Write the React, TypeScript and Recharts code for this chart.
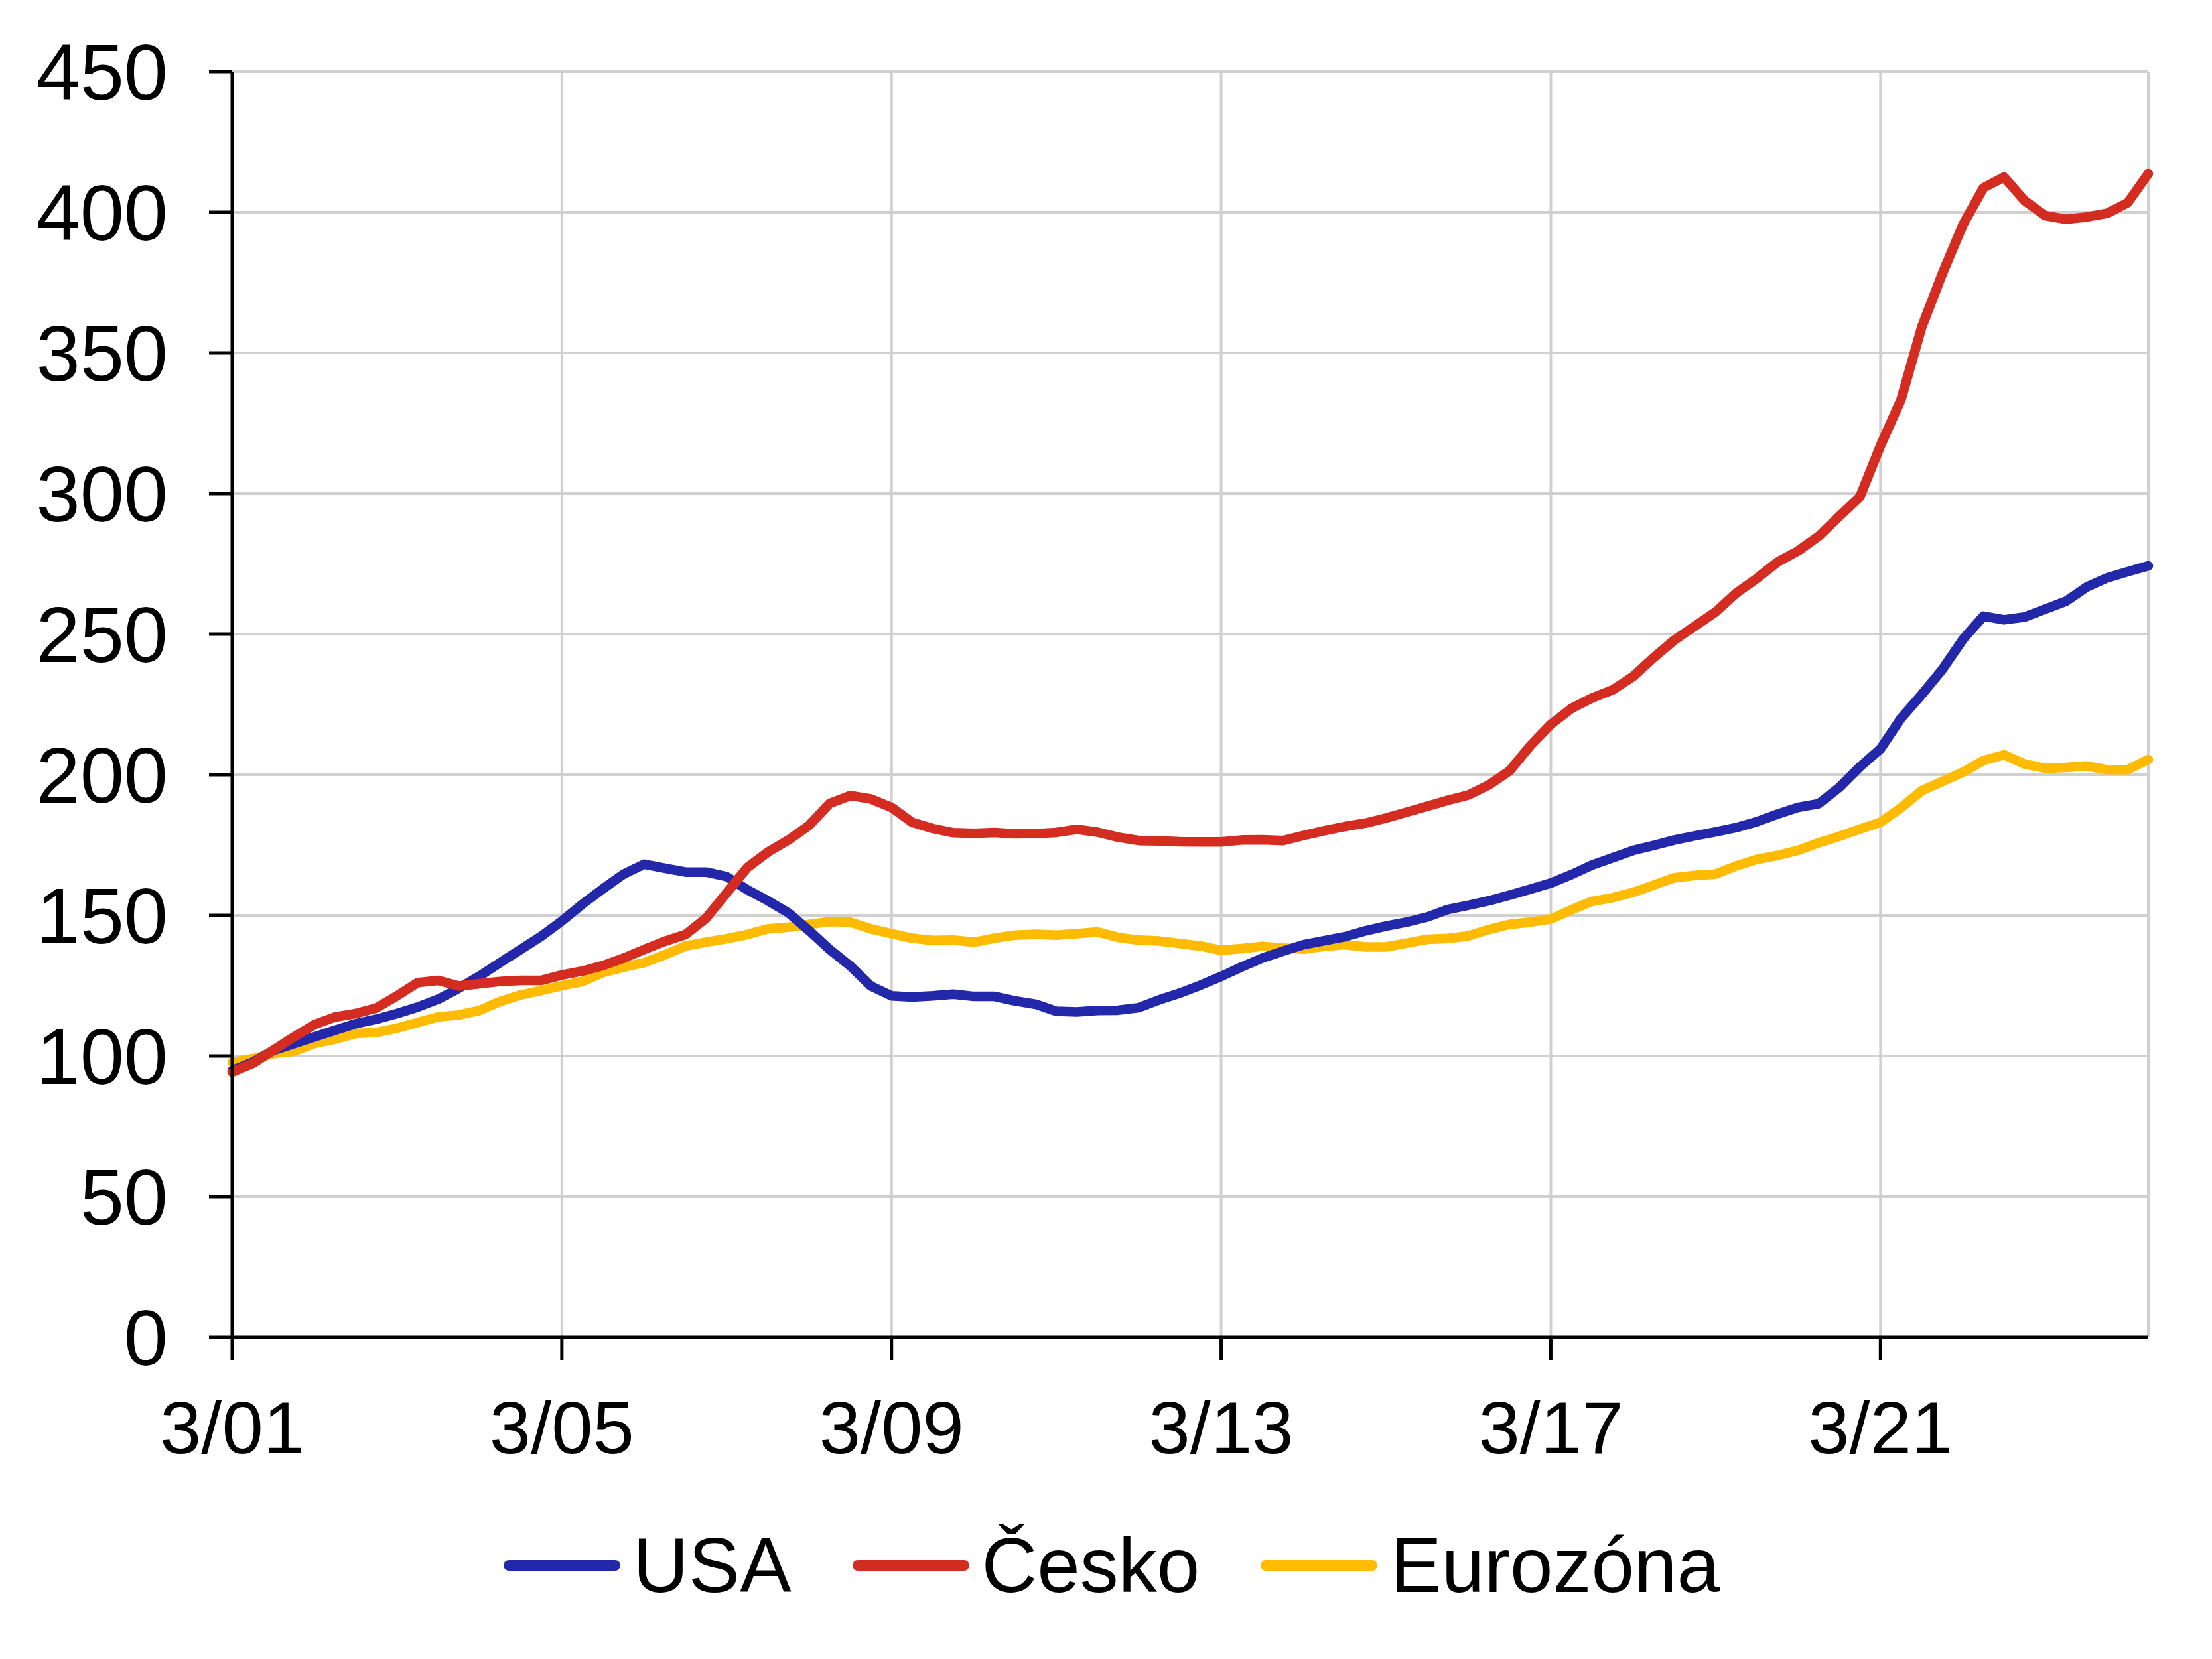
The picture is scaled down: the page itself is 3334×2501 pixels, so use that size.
import React from 'react';
import { LineChart, Line, XAxis, YAxis, CartesianGrid, Legend } from 'recharts';

const FONT = '"Liberation Sans", Arial, sans-serif';

// quarterly labels 3/01 .. 6/24
const QUARTERS: string[] = [];
for (let y = 1; y <= 24; y++) {
    for (const m of [3, 6, 9, 12]) QUARTERS.push(`${m}/${String(y).padStart(2, '0')}`);
}
QUARTERS.length = 94;

const X_TICKS = ['3/01', '3/05', '3/09', '3/13', '3/17', '3/21'];
const Y_TICKS = [0, 50, 100, 150, 200, 250, 300, 350, 400, 450];

const USA = [
    94.8, 97.8, 102, 104.4, 106.8, 109.2, 111.5, 113.1, 115.1, 117.4, 120.2, 124.1, 128.4, 133.2, 137.9, 142.6,
    148, 154, 159.5, 164.7, 168.2, 166.8, 165.4, 165.4, 163.8, 159.1, 155.2, 150.9, 144.6, 137.9, 132, 124.9,
    121.4, 121, 121.4, 122, 121.2, 121.2, 119.6, 118.4, 115.9, 115.7, 116.2, 116.3, 117.2, 120, 122.4, 125.2,
    128.3, 131.7, 134.8, 137.3, 139.6, 141, 142.4, 144.5, 146.2, 147.6, 149.4, 152.1, 153.6, 155.2, 157.2, 159.3,
    161.5, 164.5, 167.9, 170.5, 173.1, 174.9, 176.8, 178.3, 179.7, 181.2, 183.3, 186, 188.4, 189.7, 195.5, 202.8,
    209.2, 220.1, 228.5, 237.4, 248.1, 256.4, 255.1, 256.1, 258.9, 261.7, 266.7, 270, 272.2, 274.3,
];

const CESKO = [
    94.3, 97.4, 102.1, 106.8, 111.2, 113.9, 115.1, 117.1, 121.4, 126.1, 126.9, 124.9, 125.7, 126.5, 126.9, 126.9,
    128.8, 130.2, 132.2, 134.8, 137.9, 140.8, 143.2, 149, 158, 167, 172.5, 176.8, 182, 189.8, 192.6, 191.4,
    188.4, 183.1, 180.9, 179.4, 179.2, 179.5, 179, 179.1, 179.5, 180.6, 179.6, 177.8, 176.6, 176.5, 176.2, 176.1,
    176.1, 176.8, 176.9, 176.6, 178.4, 180.1, 181.6, 182.8, 184.6, 186.7, 188.8, 190.9, 192.8, 196.4, 201.4, 210.3,
    217.9, 223.6, 227.3, 230.2, 235, 241.7, 247.9, 252.9, 257.9, 264.6, 269.8, 275.6, 279.6, 284.8, 291.9, 298.8,
    317, 333.4, 359.1, 378.1, 395.5, 408.7, 412.5, 404.1, 398.8, 397.5, 398.3, 399.6, 403.4, 413.7,
];

const EUROZONA = [
    97.8, 99, 100.9, 101.7, 104.5, 106, 108, 108.4, 109.9, 111.9, 113.9, 114.6, 116.2, 119.4, 121.7, 123.3,
    125, 126.5, 129.7, 131.6, 133.2, 136, 139.1, 140.5, 141.7, 143.2, 145.2, 145.8, 146.8, 147.8, 147.6, 145.2,
    143.5, 141.9, 141.1, 141.2, 140.5, 141.9, 143, 143.3, 143, 143.5, 144.1, 142.2, 141.2, 140.9, 140, 139.1,
    137.6, 138.2, 139, 138.4, 138, 139, 139.6, 138.8, 138.8, 140.1, 141.5, 141.8, 142.7, 145, 146.8, 147.6,
    148.7, 152, 155, 156.3, 158.2, 160.8, 163.4, 164.2, 164.7, 167.6, 169.9, 171.3, 173.1, 175.8, 178.1, 180.7,
    183.1, 188.3, 194.3, 197.6, 200.9, 205.1, 207.1, 203.8, 202.3, 202.6, 203.1, 201.8, 201.8, 205.4,
];

// legend order
const SERIES = [
    { key: 'usa', name: 'USA', color: '#2327AA' },
    { key: 'cz', name: 'Česko', color: '#D42C20' },
    { key: 'ez', name: 'Eurozóna', color: '#FFBB00' },
];
// drawing order: yellow at the bottom, red on top
const DRAW_ORDER = ['ez', 'usa', 'cz'];

const data = QUARTERS.map((q, i) => ({ q, usa: USA[i], cz: CESKO[i], ez: EUROZONA[i] }));

const renderLegend = () => (
    <div
        style={{
            display: 'flex',
            justifyContent: 'center',
            alignItems: 'center',
            height: 150,
            marginLeft: 17,
            fontFamily: FONT,
            fontSize: 116,
            color: '#000',
        }}
    >
        {SERIES.map((s, k) => (
            <div key={s.key} style={{ display: 'flex', alignItems: 'center', marginLeft: k ? 92 : 0 }}>
                <svg width={176} height={20}>
                    <line x1={8} y1={10} x2={168} y2={10} stroke={s.color} strokeWidth={16} strokeLinecap="round" />
                </svg>
                <span style={{ marginLeft: 19, lineHeight: 1 }}>{s.name}</span>
            </div>
        ))}
    </div>
);

export default function App() {
    const axisStyle = { stroke: '#000', strokeWidth: 5 };
    return (
        <div style={{ position: 'absolute', left: 0, top: 0, background: '#fff' }}>
            <LineChart width={3334} height={2501} data={data} margin={{ top: 108, right: 96, left: 0, bottom: 66 }}>
                <CartesianGrid stroke="#d0d0d0" strokeWidth={4} />
                <XAxis
                    dataKey="q"
                    ticks={X_TICKS}
                    interval={0}
                    height={269}
                    tickSize={35}
                    tickMargin={60}
                    axisLine={axisStyle}
                    tickLine={axisStyle}
                    tick={{ fill: '#000', fontSize: 112, fontFamily: FONT }}
                />
                <YAxis
                    width={350}
                    domain={[0, 450]}
                    ticks={Y_TICKS}
                    interval={0}
                    tickSize={35}
                    tickMargin={62}
                    axisLine={axisStyle}
                    tickLine={axisStyle}
                    tick={{ fill: '#000', fontSize: 119, fontFamily: FONT }}
                />
                {DRAW_ORDER.map((k) => {
                    const s = SERIES.find((x) => x.key === k)!;
                    return (
                        <Line
                            key={s.key}
                            type="linear"
                            dataKey={s.key}
                            name={s.name}
                            stroke={s.color}
                            strokeWidth={14.5}
                            strokeLinecap="round"
                            strokeLinejoin="round"
                            dot={false}
                            activeDot={false}
                            isAnimationActive={false}
                        />
                    );
                })}
                <Legend verticalAlign="bottom" content={renderLegend} wrapperStyle={{ left: 0, width: 3334 }} />
            </LineChart>
        </div>
    );
}
